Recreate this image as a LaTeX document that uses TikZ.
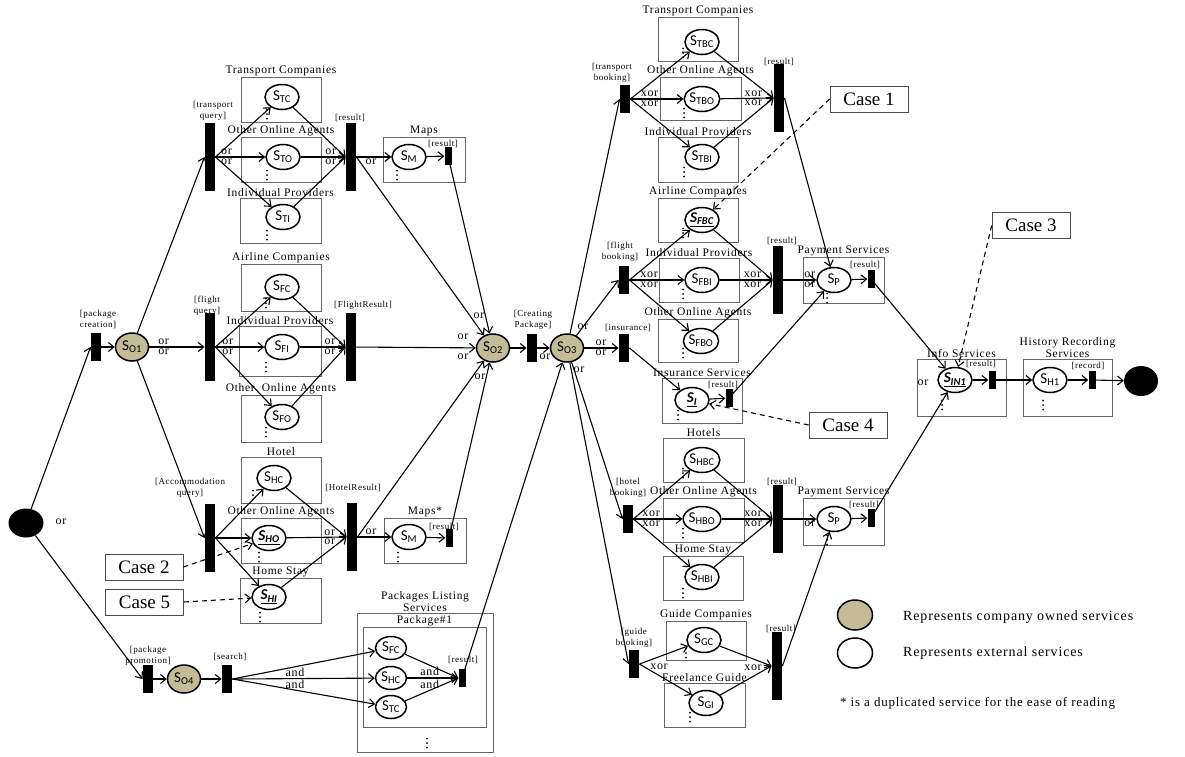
\documentclass[tikz,border=0pt]{standalone}
\usepackage{fontspec}
\setmainfont{Liberation Serif}
\newfontfamily\spfont{Liberation Serif}[LetterSpace=6]
\newfontfamily\sfnode{Carlito}
\usetikzlibrary{arrows.meta,positioning,calc,shapes.geometric}
\definecolor{cown}{HTML}{C4BB98}
\tikzset{
  svc/.style  = {ellipse, draw, line width=1.5pt, minimum width=34pt, minimum height=25pt,
                 inner sep=0pt, fill=white, font=\sfnode\fontsize{15}{15}\selectfont},
  own/.style  = {svc, fill=cown, minimum width=33pt, minimum height=28pt},
  grp/.style  = {draw=black!60, line width=0.7pt, inner sep=0pt},
  ttl/.style  = {font=\spfont\fontsize{11.5}{12}\selectfont, align=center, inner sep=0.5pt},
  bar/.style  = {fill=black, minimum width=10.5pt, minimum height=68pt, inner sep=0pt},
  sbar/.style = {bar, minimum height=28pt},
  tbar/.style = {bar, minimum width=7pt, minimum height=18pt},
  blbl/.style = {font=\spfont\fontsize{9}{11}\selectfont, align=center, inner sep=0pt},
  gl/.style   = {font=\spfont\fontsize{12}{12}\selectfont, inner sep=1.5pt},
  ar/.style   = {-{Straight Barb[length=5.5pt, width=9pt]}, line width=1.1pt},
  dar/.style  = {ar, dash pattern=on 5pt off 4pt},
  case/.style = {draw=black!70, line width=0.7pt, minimum width=78pt, minimum height=26pt,
                 inner sep=0pt, font=\fontsize{19}{19}\selectfont},
  lgd/.style  = {anchor=west, inner sep=0pt, font=\spfont\fontsize{14}{15}\selectfont},
}

\begin{document}
\begin{tikzpicture}[x=1pt, y=-1pt]
  \useasboundingbox (0,0) rectangle (1185,756);

  % service groups
  \foreach \n/\x/\y/\w/\h/\t in {TC/281/99.5/80/45/Transport Companies,
      TO/281/159.5/80/45/Other Online Agents, TI/280.5/220.5/81/45/Individual Providers,
      FC/281/287.5/80/47/Airline Companies, FI/280/351/82/50/Individual Providers,
      FO/281/418.5/80/47/Other\ \ Online Agents, HC/281/480/80/46/Hotel,
      HO/281/540.5/80/45/Other Online Agents, HI/280.5/600.5/81/45/Home Stay,
      M1/424/159.5/82/45/Maps, M2/425/540.5/82/45/Maps*,
      TBC/698/39/80/44/Transport Companies, TBO/700.5/98.5/81/43/Other Online Agents,
      TBI/698/159.5/80/45/Individual Providers, FBC/698/220/80/44/Airline Companies,
      FBI/699/280/80/44/Individual Providers, FBO/698/340.5/80/43/Other Online Agents,
      IS/702/400.5/80/45/Insurance Services, HBC/703.5/460/81/44/Hotels,
      HBO/703.5/520/81/44/Other Online Agents, HBI/703/578/80/44/Home Stay,
      GC/706/640.5/80/39/Guide Companies, GI/704.5/705/81/44/Freelance Guide,
      P1/843.5/280/81/46/Payment Services, P2/843.5/521.5/81/47/Payment Services,
      IN/961.5/387.5/89/57/Info Services, HS/1067.5/387.5/89/57/History Recording\\Services,
      PL/425/682.5/136/139/Packages Listing\\Services, PK/424.5/677/123/100/Package\#1} {
    \node[grp, minimum width=\w pt, minimum height=\h pt, label={[ttl]above:\t}] (b\n) at (\x,\y) {};
  }
  % vertical dots in the groups
  \foreach \x/\y in {267/114, 267/175, 267/235, 266/303, 266/367, 266/432, 253/495,
      259/557, 260/617, 397/175, 398/557, 683/53, 684/113, 684/172, 683/233, 683/294,
      683/353, 678/415, 683/473, 683/533, 683/593, 686/653, 690/717, 827/298, 827/540,
      942/405, 1043/405, 427/743} {
    \fill (\x,\y-4.5) circle (1) (\x,\y) circle (1) (\x,\y+4.5) circle (1);
  }

  % start, end, company owned services
  \node[ellipse, fill=black, minimum width=35pt, minimum height=29pt] (start) at (26,523) {};
  \node[ellipse, fill=black, minimum width=34pt, minimum height=30pt] (end) at (1141,381) {};
  \node[own] (sO1) at (132,347) {S\textsubscript{O1}};
  \node[own] (sO2) at (493,348) {S\textsubscript{O2}};
  \node[own] (sO3) at (567,348) {S\textsubscript{O3}};
  \node[own] (sO4) at (184,679) {S\textsubscript{O4}};

  % external services
  \node[svc] (sTC) at (282,97) {S\textsubscript{TC}};
  \node[svc] (sTO) at (283,157) {S\textsubscript{TO}};
  \node[svc] (sTI) at (283,217) {S\textsubscript{TI}};
  \node[svc] (sFC) at (282,287) {S\textsubscript{FC}};
  \node[svc] (sFI) at (282,347) {S\textsubscript{FI}};
  \node[svc] (sFO) at (282,417) {S\textsubscript{FO}};
  \node[svc] (sHC) at (274,478) {S\textsubscript{HC}};
  \node[svc] (sHO) at (269,538) {\underline{\textbf{\textit{S\textsubscript{HO}}}}};
  \node[svc] (sHI) at (269,597) {\underline{\textbf{\textit{S\textsubscript{HI}}}}};
  \node[svc] (sM1) at (409,157) {S\textsubscript{M}};
  \node[svc] (sM2) at (409,537) {S\textsubscript{M}};
  \node[svc, minimum width=31pt, minimum height=23pt] (sFC2) at (391,648) {S\textsubscript{FC}};
  \node[svc, minimum width=31pt, minimum height=23pt] (sHC2) at (391,678) {S\textsubscript{HC}};
  \node[svc, minimum width=31pt, minimum height=23pt] (sTC2) at (391,707) {S\textsubscript{TC}};
  \node[svc] (sTBC) at (702,42) {S\textsubscript{TBC}};
  \node[svc] (sTBO) at (702,99) {S\textsubscript{TBO}};
  \node[svc] (sTBI) at (702,157) {S\textsubscript{TBI}};
  \node[svc] (sFBC) at (702,220) {\underline{\textbf{\textit{S\textsubscript{FBC}}}}};
  \node[svc] (sFBI) at (702,280) {S\textsubscript{FBI}};
  \node[svc] (sFBO) at (701,341) {S\textsubscript{FBO}};
  \node[svc] (sI) at (692,400) {\underline{\textbf{\textit{S\textsubscript{I}}}}};
  \node[svc] (sHBC) at (702,460) {S\textsubscript{HBC}};
  \node[svc] (sHBO) at (702,519) {S\textsubscript{HBO}};
  \node[svc] (sHBI) at (702,577) {S\textsubscript{HBI}};
  \node[svc] (sGC) at (704,640) {S\textsubscript{GC}};
  \node[svc] (sGI) at (706,703) {S\textsubscript{GI}};
  \node[svc] (sP1) at (834,280) {S\textsubscript{P}};
  \node[svc] (sP2) at (834,519) {S\textsubscript{P}};
  \node[svc] (sIN) at (955,380) {\underline{\textbf{\textit{S\textsubscript{IN1}}}}};
  \node[svc] (sH1) at (1050,380) {S\textsubscript{H1}};

  % bars
  \node[sbar] (bPC) at (96,347) {};
  \node[bar]  (bTQ) at (210,157) {};
  \node[bar]  (bFQ) at (210,347) {};
  \node[bar]  (bAQ) at (210,538) {};
  \node[sbar] (bPP) at (148,679) {};
  \node[sbar] (bSR) at (227,679) {};
  \node[bar]  (bTR) at (351,157) {};
  \node[bar]  (bFR) at (351,347) {};
  \node[bar]  (bHR) at (352,537) {};
  \node[tbar] (tM1) at (448,156) {};
  \node[tbar] (tM2) at (449,538) {};
  \node[tbar] (tPK) at (462,678) {};
  \node[sbar] (bCP) at (532,348) {};
  \node[sbar] (bTB) at (625,99) {};
  \node[sbar] (bFB) at (624,280) {};
  \node[sbar] (bIS) at (624,348) {};
  \node[sbar] (bHB) at (628,519) {};
  \node[sbar] (bGB) at (634,664) {};
  \node[bar]  (bTBR) at (779,98) {};
  \node[bar]  (bFBR) at (778,280) {};
  \node[bar]  (bHBR) at (778,519) {};
  \node[bar]  (bGBR) at (777,666) {};
  \node[tbar] (tI) at (729,398) {};
  \node[tbar] (tP1) at (871,279) {};
  \node[tbar] (tP2) at (871,518) {};
  \node[tbar] (tIN) at (992,380) {};
  \node[tbar] (tH) at (1092,380) {};

  % bar labels
  \node[blbl] (lPC) at (98,319) {[package\\creation]};
  \node[blbl] (lTQ) at (213,111) {[transport\\query]};
  \node[blbl] (lFQ) at (207,306) {[flight\\query]};
  \node[blbl] (lAQ) at (190,488) {[Accommodation\\query]};
  \node[blbl] (lPP) at (148,656) {[package\\promotion]};
  \node[blbl] (lSR) at (230,657) {[search]};
  \node[blbl] (lTR) at (350,118) {[result]};
  \node[blbl] (lFR) at (363,305) {[FlightResult]};
  \node[blbl] (lHR) at (353,488) {[HotelResult]};
  \node[blbl] (lM1) at (443,144) {[result]};
  \node[blbl] (lM2) at (444,527) {[result]};
  \node[blbl] (lPK) at (463,660) {[result]};
  \node[blbl] (lCP) at (533,320) {[Creating\\Package]};
  \node[blbl] (lTB) at (612,73) {[transport\\booking]};
  \node[blbl] (lFB) at (620,252) {[flight\\booking]};
  \node[blbl] (lIS) at (628,328) {[insurance]};
  \node[blbl] (lHB) at (628,488) {[hotel\\booking]};
  \node[blbl] (lGB) at (634,638) {[guide\\booking]};
  \node[blbl] (lTBR) at (779,62) {[result]};
  \node[blbl] (lFBR) at (782,241) {[result]};
  \node[blbl] (lHBR) at (782,482) {[result]};
  \node[blbl] (lGBR) at (781,629) {[result]};
  \node[blbl] (lI) at (723,385) {[result]};
  \node[blbl] (lP1) at (865,265) {[result]};
  \node[blbl] (lP2) at (864,505) {[result]};
  \node[blbl] (lIN) at (981,364) {[result]};
  \node[blbl] (lH) at (1088,366) {[record]};

  % loose gateway labels
  \node[gl] (oS) at (61,522) {or};
  \node[gl] (oA) at (479,316) {or};
  \node[gl] (oB) at (463,337) {or};
  \node[gl] (oC) at (463,357) {or};
  \node[gl] (oD) at (480,377) {or};
  \node[gl] (oE) at (545,357) {or};
  \node[gl] (oF) at (583,327) {or};
  \node[gl] (oG) at (579,370) {or};
  \node[gl] (oH) at (923,383) {or};
  \node[gl] (xA) at (659,667) {xor};
  \node[gl] (xB) at (753,668) {xor};

  % left part
  \draw[ar] (start) -- (bPC.west);
  \draw[ar] (start) -- (bPP.west);
  \draw[ar] (bPC) -- (sO1);
  \draw[ar] (sO1) -- (bTQ.west);
  \draw[ar] (sO1) -- node[gl, above, pos=.26]{or} node[gl, below, pos=.26]{or} (bFQ);
  \draw[ar] (sO1) -- (bAQ.west);

  \foreach \s in {TC,TI} {
    \draw[ar] (bTQ.east) -- (s\s);
    \draw[ar] (s\s) -- (bTR.west);
  }
  \draw[ar] (bTQ.east) -- node[gl, above, pos=.22]{or} node[gl, below, pos=.22]{or} (sTO);
  \draw[ar] (sTO) -- node[gl, above, pos=.67]{or} node[gl, below, pos=.67]{or} (bTR.west);
  \draw[ar] (bTR.east) -- node[gl, below, pos=.42]{or} (sM1);
  \draw[ar] (sM1) -- (tM1);

  \foreach \s in {FC,FO} {
    \draw[ar] (bFQ.east) -- (s\s);
    \draw[ar] (s\s) -- (bFR.west);
  }
  \draw[ar] (bFQ.east) -- node[gl, above, pos=.25]{or} node[gl, below, pos=.25]{or} (sFI);
  \draw[ar] (sFI) -- node[gl, above, pos=.66]{or} node[gl, below, pos=.66]{or} (bFR.west);

  \foreach \s in {HC,HO,HI} {
    \draw[ar] (bAQ.east) -- (s\s);
  }
  \foreach \s in {HC,HI} {
    \draw[ar] (s\s) -- (bHR.west);
  }
  \draw[ar] (sHO) -- node[gl, above, pos=.72]{or} node[gl, below, pos=.72]{or} (bHR.west);
  \draw[ar] (bHR.east) -- node[gl, above, pos=.4]{or} (sM2);
  \draw[ar] (sM2) -- (tM2);

  \draw[ar] (bTR.east) -- (sO2);
  \draw[ar] (tM1) -- (sO2);
  \draw[ar] (bFR) -- (sO2);
  \draw[ar] (bHR.east) -- (sO2);
  \draw[ar] (tM2) -- (sO2);

  \draw[ar] (bPP) -- (sO4);
  \draw[ar] (sO4) -- (bSR);
  \foreach \s in {FC2,TC2} {
    \draw[ar] (bSR.east) -- (s\s);
    \draw[ar] (s\s) -- (tPK.west);
  }
  \draw[ar] (bSR.east) -- node[gl, above, pos=.44]{and} node[gl, below, pos=.44]{and} (sHC2);
  \draw[ar] (sHC2) -- node[gl, above, pos=.44]{and} node[gl, below, pos=.44]{and} (tPK.west);
  \draw[ar] (tPK) -- (sO3);

  % middle
  \draw[ar] (sO2) -- (bCP);
  \draw[ar] (bCP) -- (sO3);
  \draw[ar] (sO3) -- (bTB.west);
  \draw[ar] (sO3) -- (bFB.west);
  \draw[ar] (sO3) -- node[gl, above, pos=.49]{or} node[gl, below, pos=.49]{or} (bIS);
  \draw[ar] (sO3) -- (bHB.west);
  \draw[ar] (sO3) -- (bGB.west);

  % right part
  \foreach \g/\a/\b/\c in {TB/TBC/TBO/TBI, FB/FBC/FBI/FBO, HB/HBC/HBO/HBI} {
    \draw[ar] (b\g.east) -- (s\a);
    \draw[ar] (b\g.east) -- (s\c);
    \draw[ar] (b\g.east) -- node[gl, above, pos=.36]{xor} node[gl, below, pos=.36]{xor} (s\b);
    \draw[ar] (s\a) -- (b\g R.west);
    \draw[ar] (s\c) -- (b\g R.west);
    \draw[ar] (s\b) -- node[gl, above, pos=.62]{xor} node[gl, below, pos=.62]{xor} (b\g R.west);
  }
  \draw[ar] (bGB.east) -- (sGC);
  \draw[ar] (bGB.east) -- (sGI);
  \draw[ar] (sGC) -- (bGBR.west);
  \draw[ar] (sGI) -- (bGBR.west);

  \draw[ar] (bIS.east) -- (sI);
  \draw[ar] (sI) -- (tI);
  \draw[ar] (bTBR.east) -- (sP1);
  \draw[ar] (bFBR.east) -- node[gl, above, pos=.8]{or} node[gl, below, pos=.8]{or} (sP1);
  \draw[ar] (tI) -- (sP1);
  \draw[ar] (bHBR.east) -- node[gl, below, pos=.8]{or} (sP2);
  \draw[ar] (bGBR.east) -- (sP2);
  \draw[ar] (sP1) -- (tP1);
  \draw[ar] (sP2) -- (tP2);
  \draw[ar] (tP1) -- (sIN);
  \draw[ar] (tP2) -- (sIN);
  \draw[ar] (sIN) -- (tIN);
  \draw[ar] (tIN) -- (sH1);
  \draw[ar] (sH1) -- (tH);
  \draw[ar] (tH) -- (end);

  % cases
  \node[case] (case1) at (869,99) {Case 1};
  \node[case] (case2) at (144,567) {Case 2};
  \node[case] (case3) at (1031,225.5) {Case 3};
  \node[case] (case4) at (848,425) {Case 4};
  \node[case] (case5) at (144.5,602) {Case 5};
  \draw[dar] (case1.west) -- (sFBC);
  \draw[dar] (case2.east) -- (sHO);
  \draw[dar] (case3.west) -- (sIN);
  \draw[dar] (case4.west) -- (sI);
  \draw[dar] (case5.east) -- (sHI);

  % legend
  \node[own, minimum width=35pt, minimum height=30pt] (lgO) at (855,615) {};
  \node[svc, minimum width=35pt, minimum height=30pt] (lgE) at (855,653) {};
  \node[lgd] (lgOt) at (903,617) {Represents company owned services};
  \node[lgd] (lgEt) at (903,653) {Represents external services};
  \node[lgd, font=\spfont\fontsize{13}{14}\selectfont] (lgN) at (840,703) {* is a duplicated service for the ease of reading};
\end{tikzpicture}
\end{document}
